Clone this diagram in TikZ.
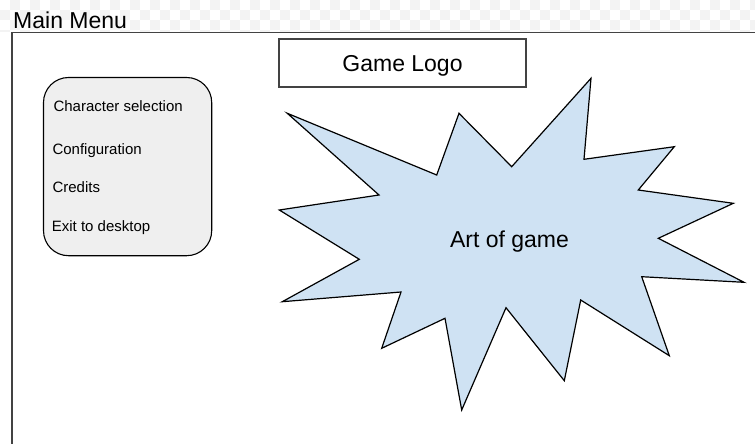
\documentclass[tikz,border=0pt]{standalone}
\usepackage{fontspec}
\setmainfont{Liberation Sans}
\definecolor{burstfill}{HTML}{CFE2F3}
\definecolor{menufill}{HTML}{EFEFEF}
\definecolor{framegray}{HTML}{434343}
\definecolor{checker}{HTML}{F3F3F3}
\begin{document}
\begin{tikzpicture}[x=1pt,y=-1pt,
  bigtext/.style={font=\fontsize{23}{27}\selectfont, inner sep=0pt},
  itemtext/.style={font=\fontsize{15}{18}\selectfont, inner sep=0pt, anchor=base west},
  framebox/.style={draw=framegray, line width=1.6pt},
  logobox/.style={draw=framegray, line width=1.4pt},
  menubox/.style={draw=black, line width=1.1pt, fill=menufill, rounded corners=25pt},
  burst/.style={draw=black, line width=1.2pt, fill=burstfill, line join=miter}]
\useasboundingbox (0,0) rectangle (755,444);
\fill[white] (0,0) rectangle (755,444);
% faint checkerboard of the transparent strip
\begin{scope}
\clip (0,0) rectangle (755,32);
\foreach \i in {0,...,75}{
  \foreach \j in {0,...,3}{
    \pgfmathtruncatemacro{\chk}{mod(\i+\j,2)}
    \ifnum\chk=1
      \fill[checker] (\i*10,\j*10) rectangle ++(10,10);
    \fi
  }
}
\end{scope}
\node[bigtext, anchor=base west] (title) at (13,28.3) {Main Menu};
\draw[framebox] (756,32.7) -- (11.7,32.7) -- (11.7,445);
% logo
\draw[logobox] (279,39) rectangle (526,87);
\node[bigtext, anchor=base] (logo) at (402.5,71.7) {Game Logo};
% menu
\draw[menubox] (43.5,77.5) rectangle (211.7,255.7);
\node[itemtext] (m1) at (53.3,111.7) {Character selection};
\node[itemtext] (m2) at (52.3,154.3) {Configuration};
\node[itemtext] (m3) at (52.3,192.3) {Credits};
\node[itemtext] (m4) at (51.7,231.7) {Exit to desktop};
% starburst
\draw[burst] (287.3,113.3) -- (436.7,175) -- (459,113.3) -- (511.7,166.7)
  -- (591,78.3) -- (584,159.3) -- (674.3,146.7) -- (638.3,190)
  -- (733.3,203.3) -- (658.3,238.3) -- (744,282.3) -- (641.7,276.7)
  -- (669.3,355.7) -- (580.7,300) -- (564.3,380.7) -- (506,307.7)
  -- (461.7,410) -- (445,318.3) -- (381.7,348.3) -- (401,292)
  -- (282.3,301.7) -- (359.3,259.3) -- (279.3,210) -- (379,195) -- cycle;
\node[bigtext, anchor=base] (art) at (509.5,247.7) {Art of game};
\end{tikzpicture}
\end{document}
